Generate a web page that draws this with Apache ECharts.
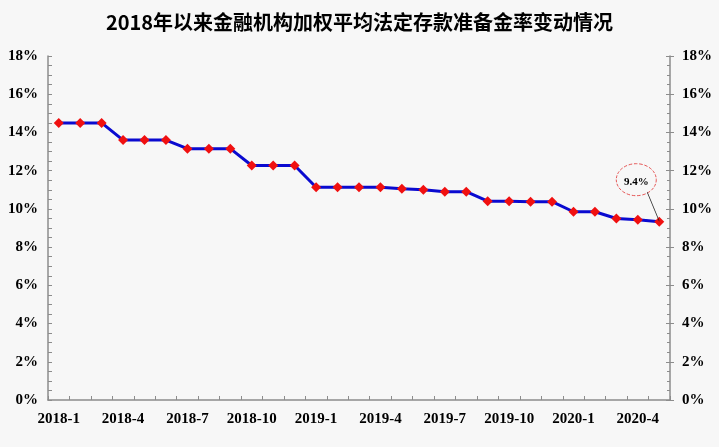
<!DOCTYPE html>
<html><head><meta charset="utf-8">
<script src="https://cdn.jsdelivr.net/npm/echarts@6/dist/echarts.min.js"></script>
<style>html,body{margin:0;padding:0;background:#f7f7f7}#c{width:719px;height:447px}</style>
</head><body><div id="c"></div>
<script>
var titleText = '2018年以来金融机构加权平均法定存款准备金率变动情况';
var categories = ['2018-1','2018-2','2018-3','2018-4','2018-5','2018-6','2018-7','2018-8','2018-9','2018-10','2018-11','2018-12',
  '2019-1','2019-2','2019-3','2019-4','2019-5','2019-6','2019-7','2019-8','2019-9','2019-10','2019-11','2019-12',
  '2020-1','2020-2','2020-3','2020-4','2020-5'];
var rrrValues = [14.5,14.5,14.5,13.6,13.6,13.6,13.15,13.15,13.15,12.27,12.27,12.27,
  11.13,11.13,11.13,11.13,11.05,11.0,10.9,10.9,10.4,10.4,10.38,10.38,
  9.85,9.85,9.5,9.43,9.33];
var calloutText = '9.4%';

var chart = echarts.init(document.getElementById('c'), null, {renderer:'canvas'});
var lblFont = {fontFamily:'Liberation Serif', fontWeight:'bold', fontSize:15, color:'#000'};
var axisGray = '#8c8c8c';
var lastIdx = categories.length - 1;
chart.setOption({
  backgroundColor:'#f7f7f7',
  animation:false,
  title:{text:titleText,left:'center',top:7,textStyle:{fontFamily:'Noto Sans CJK SC',fontWeight:'bold',fontSize:20,color:'#000'}},
  grid:{left:48,right:49,top:56,bottom:47},
  xAxis:{type:'category',data:categories,boundaryGap:true,
    axisLine:{lineStyle:{color:axisGray,width:1.5}},
    axisTick:{show:true,inside:true,length:4,interval:0,lineStyle:{color:axisGray}},
    axisLabel:Object.assign({interval:2,margin:12},lblFont),
    splitLine:{show:false}},
  yAxis:[
    {type:'value',position:'left',min:0,max:18,interval:2,
     axisLine:{show:true,lineStyle:{color:axisGray,width:1.5}},
     axisTick:{show:true,inside:true,length:4,lineStyle:{color:axisGray}},
     minorTick:{show:true,splitNumber:4,length:4,lineStyle:{color:axisGray}},
     axisLabel:Object.assign({formatter:'{value}%',margin:10},lblFont),
     splitLine:{show:false}},
    {type:'value',position:'right',min:0,max:18,interval:2,
     axisLine:{show:true,lineStyle:{color:axisGray,width:1.5}},
     axisTick:{show:true,inside:true,length:4,lineStyle:{color:axisGray}},
     minorTick:{show:true,splitNumber:4,length:3,lineStyle:{color:axisGray}},
     axisLabel:Object.assign({formatter:'{value}%',margin:12},lblFont),
     splitLine:{show:false}},
    {type:'value',position:'right',offset:0,min:0,max:18,interval:2,
     axisLine:{show:false},
     axisTick:{show:true,inside:false,length:4,lineStyle:{color:axisGray}},
     axisLabel:{show:false},splitLine:{show:false}}
  ],
  series:[{
    type:'line',data:rrrValues,yAxisIndex:0,
    lineStyle:{color:'#0a0ad0',width:3},
    symbol:'diamond',symbolSize:10,showSymbol:true,
    itemStyle:{color:'#f01010',borderWidth:0},
    z:3,
    markPoint:{
      silent:true,
      data:[
        {coord:[lastIdx,rrrValues[lastIdx]],symbol:'circle',symbolSize:[40,32],symbolOffset:[-23,-42],
         itemStyle:{color:'rgba(0,0,0,0)',borderColor:'#e03030',borderWidth:0.8,borderType:'dashed'},
         label:{show:true,formatter:calloutText,position:'inside',offset:[0,2],fontFamily:'Liberation Serif',fontWeight:'bold',fontSize:11,color:'#000'}},
        {coord:[lastIdx,rrrValues[lastIdx]],symbol:'path://M0,0L12,29',symbolSize:[12,29],symbolOffset:[-6,-15],
         itemStyle:{color:'rgba(0,0,0,0)',borderColor:'#222',borderWidth:0.8},
         label:{show:false}}
      ]
    }
  }]
});
</script></body></html>
